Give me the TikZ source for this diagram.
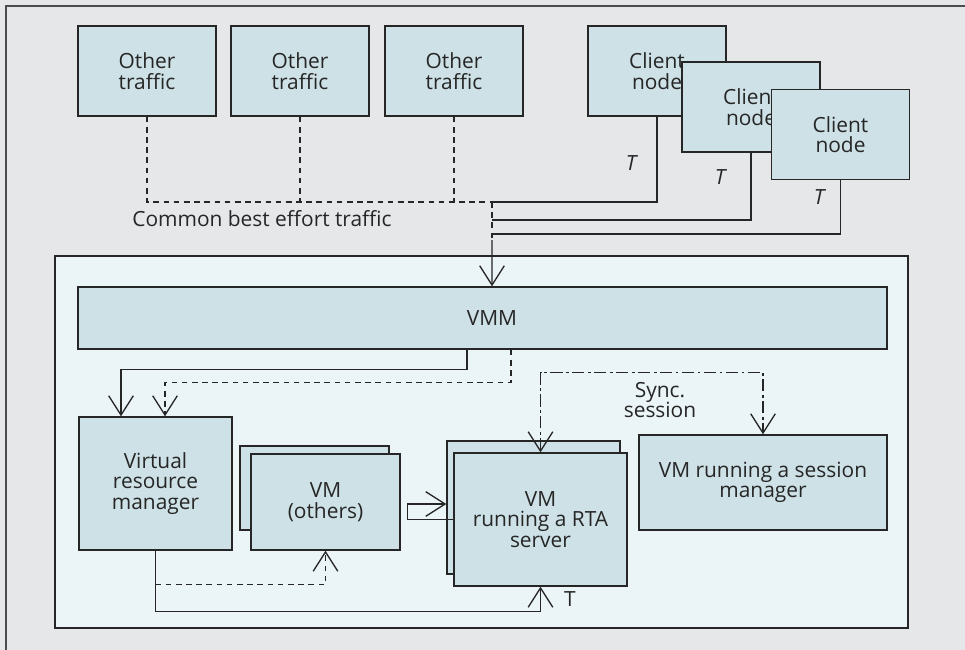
\documentclass[tikz,border=0pt]{standalone}
\usepackage{fontspec}
\setmainfont{Open Sans}
\usepackage{xcolor}
\usepackage{tikz}
\usetikzlibrary{arrows.meta,positioning,calc}
\definecolor{bggray}{HTML}{E6E7E9}
\definecolor{panel}{HTML}{EBF4F7}
\definecolor{boxfill}{HTML}{CDE1E6}
\definecolor{ink}{HTML}{262626}

\begin{document}
\begin{tikzpicture}[x=0.02cm, y=-0.02cm,
    box/.style={draw=ink, fill=boxfill, line width=0.8pt, align=center, text=ink, inner sep=0pt, font=\fontsize{11.9}{11.6}\selectfont},
    trafficbox/.style={box, minimum width=2.76cm, minimum height=1.8cm},
    lbl/.style={text=ink, align=center, inner sep=0pt, font=\fontsize{11.9}{11.6}\selectfont},
    conn/.style={draw=ink, line width=0.75pt},
    dashconn/.style={conn, dash pattern=on 3.2pt off 2.6pt},
    syncconn/.style={conn, dash pattern=on 7pt off 2pt on 1.5pt off 2pt},
    >={Straight Barb[length=11pt,width=14pt]}]
    \useasboundingbox (0,0) rectangle (965,650);
    \fill[bggray] (0,0) rectangle (965,650);
    \draw[line width=1pt, gray!60!black] (6,650) -- (6,6) -- (965,6);

    % Traffic sources
    \node[trafficbox] (ot1) at (147,71) {Other\\traffic};
    \node[trafficbox] (ot2) at (300,71) {Other\\traffic};
    \node[trafficbox] (ot3) at (454,71) {Other\\traffic};
    \node[trafficbox] (cn1) at (657,71) {Client\\node};
    \node[trafficbox] (cn2) at (751,107) {Client\\node};
    \node[trafficbox] (cn3) at (840.5,134.5) {Client\\node};

    % Host
    \node[draw=ink, fill=panel, line width=0.8pt, minimum width=17.06cm, minimum height=7.44cm, inner sep=0pt] (host) at (481.5,442) {};
    \node[box, minimum width=16.18cm, minimum height=1.24cm] (vmm) at (482.5,318) {};
    \node[lbl] (vmmtext) at (492,318) {VMM};
    \node[box, minimum width=3.06cm, minimum height=2.66cm] (vrm) at (155.5,483.5) {Virtual\\resource\\manager};
    \node[box, minimum width=2.98cm, minimum height=1.68cm] (vmob) at (314.5,488) {};
    \node[box, minimum width=2.98cm, minimum height=1.92cm] (vmof) at (325.5,502) {VM\\(others)};
    \node[box, minimum width=3.46cm, minimum height=2.66cm] (rtab) at (533.5,507.5) {};
    \node[box, minimum width=3.46cm, minimum height=2.66cm] (rtaf) at (540.5,519.5) {VM\\running a RTA\\server};
    \node[box, minimum width=4.96cm, minimum height=1.9cm] (smgr) at (763,482.5) {VM running a session\\manager};

    % Common best effort traffic
    \coordinate (jn) at (492,202);
    \draw[dashconn] (ot1.south) |- (jn);
    \draw[dashconn] (ot2.south) -- (ot2.south |- jn);
    \draw[dashconn] (ot3.south) -- (ot3.south |- jn);
    \draw[conn] (cn1.south) |- (jn);
    \draw[conn] (cn2.south) |- ($(jn)+(0,18)$);
    \draw[conn] (cn3.south) |- ($(jn)+(0,32)$);
    \draw[dashconn] (jn) -- ++(0,38) coordinate (jn2);
    \draw[conn,->] (jn2) -- ($(vmm.north)+(9.5,0)$);
    \node[lbl] (cbe) at (262,219) {Common best effort traffic};
    \node[lbl, font=\fontsize{11.9}{11.6}\selectfont\itshape] (t1) at (631,163) {T};
    \node[lbl, font=\fontsize{11.9}{11.6}\selectfont\itshape] (t2) at (720,177) {T};
    \node[lbl, font=\fontsize{11.9}{11.6}\selectfont\itshape] (t3) at (819,197) {T};

    % VMM to resource manager
    \draw[conn,->] ($(vmm.south)+(-15.5,0)$) -- ++(0,20) -| ($(vrm.north)+(-34.5,0)$);
    \draw[dashconn,->] ($(vmm.south)+(28.5,0)$) -- ++(0,33) -| ($(vrm.north)+(9.5,0)$);

    % VMs
    \draw[conn,->] (rtaf.west) -- ++(-46,0) |- ($(rtab.west)+(0,-3.5)$);
    \draw[syncconn,<->] (rtaf.north) |- ($(smgr.north)+(0,-62)$) -- (smgr.north);
    \node[lbl] (synctext) at (660,400) {Sync.\\session};
    \draw[conn,->] (vrm.south) |- ($(rtaf.south)+(0,25)$) -- (rtaf.south);
    \draw[dashconn,->] ($(vrm.south)+(0,34)$) -| (vmof.south);
    \node[lbl] (tb) at (570,599) {T};
\end{tikzpicture}
\end{document}
